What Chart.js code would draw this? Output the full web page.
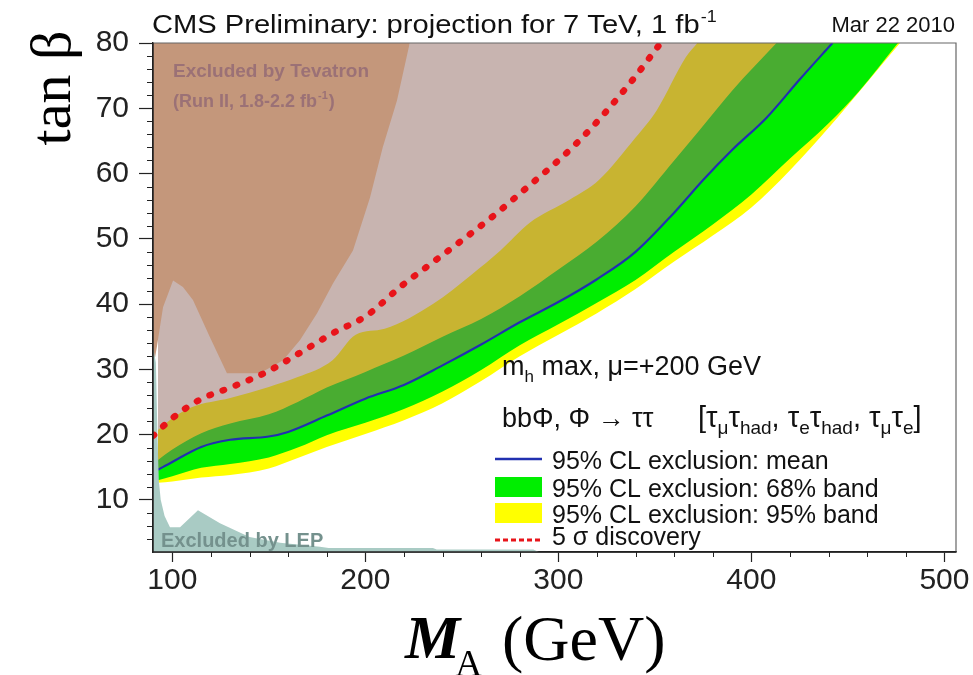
<!DOCTYPE html>
<html>
<head>
<meta charset="utf-8">
<script src="https://cdn.jsdelivr.net/npm/chart.js@4.4.1/dist/chart.umd.min.js"></script>
<style>
  body { margin: 0; background: #fff; }
  canvas { display: block; }
</style>
</head>
<body>
<canvas id="chart" width="973" height="675"></canvas>
<script>
// axis ticks
var xTicks = [100, 200, 300, 400, 500];
var yTicks = [10, 20, 30, 40, 50, 60, 70, 80];
var xMinorStep = 20, yMinorStep = 2;

// Tevatron excluded region (lower edge, filled up to 80)
var tevMass = [90, 92, 95.2, 100.4, 105.5, 110.7, 119.5, 128.3, 145.4, 157.4, 166.2, 175, 183.3, 193.6, 202.4, 209, 216.4, 223];
var tevTanb = [30, 33.4, 39.5, 43.6, 42.6, 40.6, 34.9, 29.4, 29.4, 31.4, 34.5, 38.6, 43.2, 48.2, 56.3, 64, 71.2, 80];

// LEP excluded region (upper edge)
var lepMass = [90, 91.5, 92.3, 93, 94, 96, 98.8, 104, 113.3, 124.7, 140, 155.8, 176.5, 181, 235, 237, 287, 290];
var lepTanb = [33.5, 31, 20, 13, 10, 7.5, 5.8, 5.8, 8.4, 6.4, 4.3, 3.4, 2.8, 2.6, 2.6, 2.4, 2.4, 2];

// 95% CL exclusion: mean
var meanMass = [92.6, 100, 115, 130, 150, 160, 180, 200, 220, 240, 260, 280, 300, 320, 340, 360, 375, 390, 408, 425, 442];
var meanTanb = [14.6, 15.8, 18.1, 19.2, 19.7, 20.4, 22.9, 25.5, 27.6, 30.6, 33.8, 37.2, 40.3, 43.8, 48.0, 54.0, 59.0, 63.6, 68.6, 74.4, 80];

// 68% band
var gUpMass = [92.6, 100, 115, 130, 150, 165, 180, 200, 220, 240, 260, 280, 300, 320, 340, 360, 373, 390, 413];
var gUpTanb = [16.1, 17.7, 20.2, 21.7, 23.1, 25.0, 27.2, 29.6, 32.1, 35.0, 37.7, 41.2, 45.3, 49.6, 55.0, 62.0, 66.6, 72.7, 80];
var gLoMass = [92.6, 100, 115, 130, 150, 165, 180, 200, 220, 240, 260, 280, 300, 320, 340, 360, 380, 400, 420, 440, 456, 476];
var gLoTanb = [13.0, 13.6, 14.9, 15.5, 16.5, 18.0, 19.9, 21.8, 23.9, 26.6, 29.9, 33.7, 36.9, 40.2, 43.7, 48.0, 52.2, 56.8, 62.3, 67.7, 72.7, 80];

// 95% band
var yUpMass = [92.6, 100, 110, 130, 150, 165, 183, 195, 210, 235, 255, 270, 285, 306, 321, 340, 351, 366, 372];
var yUpTanb = [20.7, 22.5, 24.2, 25.6, 27.3, 28.8, 31.4, 35.3, 36.2, 40.0, 44.5, 48.2, 52.4, 56.0, 59.0, 65.5, 69.7, 77.8, 80];
var yLoMass = [92.6, 100, 115, 130, 150, 165, 180, 200, 220, 240, 260, 280, 300, 320, 340, 360, 380, 400, 420, 440, 460, 477];
var yLoTanb = [12.6, 12.8, 13.4, 13.8, 14.8, 16.4, 18.1, 20.1, 22.2, 24.8, 28.2, 32.0, 35.3, 38.6, 42.3, 46.5, 50.5, 54.8, 60.5, 67.0, 74.0, 80];

// 5 sigma discovery
var discMass = [90, 100, 114, 131, 149, 166, 183, 201, 218, 235, 252, 268, 276, 311, 337, 353];
var discTanb = [19.8, 22.5, 25.3, 27.3, 29.6, 32.5, 35.5, 38.3, 42.6, 46.4, 50.2, 53.9, 55.9, 65.1, 73.8, 80];

var legendLabels = ['95% CL exclusion: mean', '95% CL exclusion: 68% band', '95% CL exclusion: 95% band', '5 \u03c3 discovery'];

var SANS = "'Liberation Sans', Arial, sans-serif";
var SERIF = "'Liberation Serif', 'Times New Roman', serif";

function pts(xs, ys) {
	return xs.map(function (x, i) { return {x: x, y: ys[i]}; });
}

// filled region without outline; smooth = monotone curve through the read points
function area(data, fill, color, smooth) {
	return {data: data, fill: fill, backgroundColor: color, borderColor: 'transparent', borderWidth: 0, clip: 0,
		cubicInterpolationMode: smooth ? 'monotone' : 'default'};
}

// draws a list of [text, size, dy, family] pieces one after another
function rich(ctx, x, y, parts) {
	parts.forEach(function (p) {
		ctx.font = p[1] + 'px ' + (p[3] || SANS);
		ctx.fillText(p[0], x, y + (p[2] || 0));
		x += ctx.measureText(p[0]).width;
	});
	return x;
}

var decor = {
	id: 'decor',
	afterDraw: function (chart) {
		var ctx = chart.ctx, a = chart.chartArea, xs = chart.scales.x, ys = chart.scales.y;
		ctx.save();

		// minor ticks
		ctx.strokeStyle = '#222';
		ctx.lineWidth = 1;
		ctx.beginPath();
		for (var v = 4; v < 80; v += yMinorStep) {
			if (v % 10 === 0) continue;
			var py = Math.round(ys.getPixelForValue(v)) + 0.5;
			ctx.moveTo(a.left - 6, py); ctx.lineTo(a.left, py);
		}
		for (var m = 120; m < 506; m += xMinorStep) {
			if (m % 100 === 0) continue;
			var px = Math.round(xs.getPixelForValue(m)) + 0.5;
			ctx.moveTo(px, a.bottom); ctx.lineTo(px, a.bottom + 5);
		}
		ctx.stroke();

		// frame
		ctx.strokeStyle = '#666';
		ctx.lineWidth = 1.2;
		ctx.beginPath();
		ctx.moveTo(a.left, a.top); ctx.lineTo(a.right, a.top); ctx.lineTo(a.right, a.bottom);
		ctx.stroke();
		ctx.strokeStyle = '#222';
		ctx.lineWidth = 1.5;
		ctx.beginPath();
		ctx.moveTo(a.left, a.top); ctx.lineTo(a.left, a.bottom); ctx.lineTo(a.right, a.bottom);
		ctx.stroke();

		// header (slightly widened like the original)
		ctx.fillStyle = '#111';
		ctx.textAlign = 'left';
		ctx.textBaseline = 'alphabetic';
		ctx.save();
		ctx.translate(152, 33);
		ctx.scale(1.12, 1);
		var e = rich(ctx, 0, 0, [['CMS Preliminary: projection for 7 TeV, 1 fb', 26]]);
		rich(ctx, e + 1, 0, [['-1', 16, -11]]);
		ctx.restore();
		ctx.font = '22px ' + SANS;
		ctx.textAlign = 'right';
		ctx.fillText('Mar 22 2010', 955, 32);
		ctx.textAlign = 'left';

		// region labels
		ctx.fillStyle = '#9b7176';
		ctx.font = 'bold 19px ' + SANS;
		ctx.fillText('Excluded by Tevatron', 173, 77);
		ctx.font = 'bold 18px ' + SANS;
		ctx.fillText('(Run II, 1.8-2.2 fb', 173, 107);
		var w = ctx.measureText('(Run II, 1.8-2.2 fb').width;
		ctx.font = 'bold 11px ' + SANS;
		ctx.fillText('-1', 173 + w + 1, 99);
		var w2 = ctx.measureText('-1').width;
		ctx.font = 'bold 18px ' + SANS;
		ctx.fillText(')', 173 + w + w2 + 2, 107);

		ctx.fillStyle = '#74918d';
		ctx.font = 'bold 20px ' + SANS;
		ctx.fillText('Excluded by LEP', 161, 547);

		// axis titles
		ctx.fillStyle = '#000';
		ctx.save();
		ctx.translate(70, 88);
		ctx.rotate(-Math.PI / 2);
		ctx.textAlign = 'center';
		ctx.font = '58px ' + SERIF;
		ctx.fillText('tan \u03b2', 0, 0);
		ctx.restore();
		ctx.font = 'bold italic 62px ' + SERIF;
		ctx.fillText('M', 405, 658);
		ctx.font = '38px ' + SERIF;
		ctx.fillText('A', 455, 676);
		ctx.font = '64px ' + SERIF;
		ctx.fillText('(GeV)', 502, 660);

		// legend
		ctx.fillStyle = '#111';
		rich(ctx, 502, 375, [['m', 27], ['h', 17, 7], [' max, \u03bc=+200 GeV', 27]]);
		rich(ctx, 502, 427, [['bb\u03a6, \u03a6 \u2192 \u03c4\u03c4', 27]]);
		rich(ctx, 698, 427, [['[\u03c4', 29], ['\u03bc', 19, 7], ['\u03c4', 29], ['had', 19, 7], [', \u03c4', 29], ['e', 19, 7],
			['\u03c4', 29], ['had', 19, 7], [', \u03c4', 29], ['\u03bc', 19, 7], ['\u03c4', 29], ['e', 19, 7], [']', 29]]);

		var base = [469, 497, 523, 545];
		ctx.font = '25px ' + SANS;
		legendLabels.forEach(function (t, i) { ctx.fillText(t, 552, base[i]); });

		ctx.strokeStyle = '#2130b0';
		ctx.lineWidth = 2.5;
		ctx.beginPath(); ctx.moveTo(495, 459); ctx.lineTo(542, 459); ctx.stroke();
		ctx.fillStyle = '#00ee00';
		ctx.fillRect(495, 477, 47, 20);
		ctx.fillStyle = '#ffff00';
		ctx.fillRect(495, 503, 47, 20);
		ctx.strokeStyle = '#e8141a';
		ctx.lineWidth = 3;
		ctx.setLineDash([5, 3]);
		ctx.beginPath(); ctx.moveTo(495, 540); ctx.lineTo(542, 540); ctx.stroke();
		ctx.restore();
	}
};

Chart.defaults.font.family = SANS;

var tickFont = {family: SANS, size: 30};

var chart = new Chart(document.getElementById('chart').getContext('2d'), {
	type: 'line',
	data: {
		datasets: [
			{data: pts(discMass, discTanb), fill: false, borderColor: '#e8141a', borderWidth: 6.5,
				borderDash: [1.5, 12.5], borderCapStyle: 'round', cubicInterpolationMode: 'monotone', clip: 0},
			area(pts(lepMass, lepTanb), 'start', '#a9cbc4'),
			area(pts(tevMass, tevTanb), 'end', '#c4977b'),
			{data: pts(meanMass, meanTanb), fill: 'end', backgroundColor: 'rgba(145,105,98,0.5)',
				borderColor: '#2130b0', borderWidth: 2.2, cubicInterpolationMode: 'monotone', clip: 0},
			area(pts(yUpMass, yUpTanb), 'end', '#ffffff', true),
			area(pts(gUpMass, gUpTanb), 'end', '#ffff00', true),
			area(pts(gLoMass, gLoTanb), 'end', '#00ee00', true),
			area(pts(yLoMass, yLoTanb), 'end', '#ffff00', true)
		]
	},
	options: {
		responsive: false,
		animation: false,
		events: [],
		layout: {padding: {left: 0, top: 43, right: 17, bottom: 0}},
		elements: {point: {radius: 0}, line: {tension: 0}},
		plugins: {legend: {display: false}, tooltip: {enabled: false}},
		scales: {
			x: {
				type: 'linear', min: 90, max: 506,
				afterFit: function (s) { s.height = 123; },
				afterBuildTicks: function (s) { s.ticks = xTicks.map(function (v) { return {value: v}; }); },
				grid: {drawOnChartArea: false, tickLength: 10, tickColor: '#222', tickWidth: 1.2},
				border: {color: '#222', width: 1.5},
				ticks: {color: '#222', padding: 1, maxRotation: 0, font: tickFont}
			},
			y: {
				type: 'linear', min: 2, max: 80,
				afterFit: function (s) { s.width = 153; },
				afterBuildTicks: function (s) { s.ticks = yTicks.map(function (v) { return {value: v}; }); },
				grid: {drawOnChartArea: false, tickLength: 14, tickColor: '#222', tickWidth: 1.2},
				border: {color: '#222', width: 1.5},
				ticks: {color: '#222', padding: 10, font: tickFont}
			}
		}
	},
	plugins: [decor]
});
</script>
</body>
</html>
